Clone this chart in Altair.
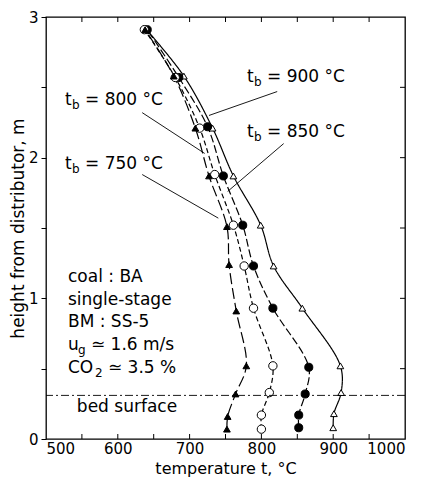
import altair as alt
import pandas as pd

# ---- data ----
series_names = ["900", "850", "800", "750"]
heights = {
    "900": [0.08, 0.18, 0.33, 0.52, 0.93, 1.23, 1.52, 1.87, 2.21, 2.58, 2.91],
    "850": [0.08, 0.17, 0.32, 0.51, 0.93, 1.23, 1.52, 1.87, 2.22, 2.57, 2.91],
    "800": [0.07, 0.17, 0.33, 0.52, 0.93, 1.23, 1.52, 1.88, 2.21, 2.57, 2.91],
    "750": [0.07, 0.16, 0.32, 0.52, 0.91, 1.24, 1.51, 1.87, 2.21, 2.58, 2.91],
}
temps = {
    "900": [900, 901, 911, 910, 857, 817, 799, 761, 732, 692, 640],
    "850": [852, 852, 861, 866, 816, 789, 774, 747, 725, 685, 641],
    "800": [800, 800, 811, 816, 789, 776, 761, 735, 714, 680, 637],
    "750": [752, 753, 764, 779, 765, 755, 752, 727, 708, 678, 638],
}
x_tick_labels = [500, 600, 700, 800, 900, 1000]
x_minor = [550, 600, 650, 700, 750, 800, 850, 900, 950]
y_ticks = [0, 0.5, 1, 1.5, 2, 2.5, 3]
y_inner = [0.5, 1, 1.5, 2, 2.5]
bed_height = 0.31

label_rest = ["= 900 °C", "= 800 °C", "= 850 °C", "= 750 °C"]
label_t = [780, 526.5, 780, 526.5]
label_h = [2.573, 2.409, 2.184, 1.954]

leader_t1 = [822, 634, 831, 634]
leader_h1 = [2.47, 2.32, 2.10, 1.88]
leader_t2 = [727, 721, 753, 740]
leader_h2 = [2.30, 2.03, 1.76, 1.57]

cond_lines = ["coal : BA", "single-stage", "BM : SS-5"]
cond_h = [1.151, 0.988, 0.832]
ug_h = 0.668
co2_h = 0.505
cond_t = 530.6
bed_label_t = 543
bed_label_h = 0.227

# ---- styles ----
FONT = "DejaVu Sans"
W, H = 359, 422
styles = {
    "900": dict(dash=[1, 0], shape="triangle-up", fill="white", size=45),
    "850": dict(dash=[8, 3], shape="circle", fill="black", size=65),
    "800": dict(dash=[5, 3], shape="circle", fill="white", size=70),
    "750": dict(dash=[11, 4], shape="triangle-up", fill="black", size=45),
}

xs = alt.Scale(domain=[500, 1000], nice=False, zero=False)
ys = alt.Scale(domain=[0, 3], nice=False, zero=False)

x_enc = alt.X("t:Q", scale=xs, title="temperature t, °C",
              axis=alt.Axis(values=x_tick_labels, ticks=False, domain=False, grid=False,
                            format="d", labelFlush=True, labelPadding=2, labelFontSize=15,
                            titleFontSize=16, titlePadding=4, labelFont=FONT, titleFont=FONT,
                            labelColor="black", titleColor="black", titleFontWeight="normal"))
y_enc = alt.Y("h:Q", scale=ys, title="height from distributor, m",
              axis=alt.Axis(values=y_ticks, tickSize=5, tickColor="black", domain=False, grid=False,
                            labelExpr="datum.value % 1 == 0 ? format(datum.value, 'd') : ''",
                            labelPadding=3, labelFontSize=15, titleFontSize=17, titlePadding=1,
                            labelFont=FONT, titleFont=FONT, labelColor="black",
                            titleColor="black", titleFontWeight="normal"))

layers = []
for s in series_names:
    df = pd.DataFrame({"t": temps[s], "h": heights[s]})
    st = styles[s]
    layers.append(
        alt.Chart(df).mark_line(color="black", strokeWidth=1.2, strokeDash=st["dash"],
                                interpolate="catmull-rom")
        .encode(x=x_enc, y=y_enc, order="h:Q")
    )
for s in series_names:
    df = pd.DataFrame({"t": temps[s], "h": heights[s]})
    st = styles[s]
    layers.append(
        alt.Chart(df).mark_point(shape=st["shape"], filled=True, fill=st["fill"], stroke="black",
                                 strokeWidth=1, size=st["size"], opacity=1)
        .encode(x="t:Q", y="h:Q")
    )

# bed surface line
bed_df = pd.DataFrame({"h": [bed_height]})
layers.append(alt.Chart(bed_df).mark_rule(color="black", strokeWidth=0.9, strokeDash=[8, 3, 2, 3])
              .encode(y="h:Q"))
layers.append(alt.Chart(pd.DataFrame({"t": [bed_label_t], "h": [bed_label_h], "txt": ["bed surface"]}))
              .mark_text(align="left", baseline="middle", font=FONT, fontSize=17, color="black")
              .encode(x="t:Q", y="h:Q", text="txt:N"))

# inner ticks
xt = pd.DataFrame({"t": x_minor})
layers.append(alt.Chart(xt).mark_rule(color="black", strokeWidth=1)
              .encode(x="t:Q", y=alt.value(H), y2=alt.value(H - 5)))
layers.append(alt.Chart(xt).mark_rule(color="black", strokeWidth=1)
              .encode(x="t:Q", y=alt.value(0), y2=alt.value(5)))
yt = pd.DataFrame({"h": y_inner})
layers.append(alt.Chart(yt).mark_rule(color="black", strokeWidth=1)
              .encode(y="h:Q", x=alt.value(W), x2=alt.value(W - 5)))

# leader lines
ld = pd.DataFrame({"t": leader_t1, "h": leader_h1, "t2": leader_t2, "h2": leader_h2})
layers.append(alt.Chart(ld).mark_rule(color="black", strokeWidth=0.9)
              .encode(x="t:Q", y="h:Q", x2="t2:Q", y2="h2:Q"))

# curve labels
lab = pd.DataFrame({"t": label_t, "h": label_h, "rest": label_rest,
                    "tt": ["t"] * 4, "bb": ["b"] * 4})
layers.append(alt.Chart(lab).mark_text(align="left", baseline="middle", font=FONT, fontSize=17,
                                       color="black").encode(x="t:Q", y="h:Q", text="tt:N"))
layers.append(alt.Chart(lab).mark_text(align="left", baseline="middle", font=FONT, fontSize=12,
                                       color="black", dx=7, dy=5).encode(x="t:Q", y="h:Q", text="bb:N"))
layers.append(alt.Chart(lab).mark_text(align="left", baseline="middle", font=FONT, fontSize=17,
                                       color="black", dx=20).encode(x="t:Q", y="h:Q", text="rest:N"))

# condition block
cd = pd.DataFrame({"t": [cond_t] * 3, "h": cond_h, "txt": cond_lines})
layers.append(alt.Chart(cd).mark_text(align="left", baseline="middle", font=FONT, fontSize=17,
                                      color="black").encode(x="t:Q", y="h:Q", text="txt:N"))
ug = pd.DataFrame({"t": [cond_t], "h": [ug_h], "a": ["u"], "b": ["g"], "c": ["≃ 1.6 m/s"]})
layers.append(alt.Chart(ug).mark_text(align="left", baseline="middle", font=FONT, fontSize=17,
                                      color="black").encode(x="t:Q", y="h:Q", text="a:N"))
layers.append(alt.Chart(ug).mark_text(align="left", baseline="middle", font=FONT, fontSize=12,
                                      color="black", dx=10, dy=5).encode(x="t:Q", y="h:Q", text="b:N"))
layers.append(alt.Chart(ug).mark_text(align="left", baseline="middle", font=FONT, fontSize=17,
                                      color="black", dx=23).encode(x="t:Q", y="h:Q", text="c:N"))
co = pd.DataFrame({"t": [cond_t], "h": [co2_h], "a": ["CO"], "b": ["2"], "c": ["≃ 3.5 %"]})
layers.append(alt.Chart(co).mark_text(align="left", baseline="middle", font=FONT, fontSize=17,
                                      color="black").encode(x="t:Q", y="h:Q", text="a:N"))
layers.append(alt.Chart(co).mark_text(align="left", baseline="middle", font=FONT, fontSize=12,
                                      color="black", dx=27, dy=5).encode(x="t:Q", y="h:Q", text="b:N"))
layers.append(alt.Chart(co).mark_text(align="left", baseline="middle", font=FONT, fontSize=17,
                                      color="black", dx=40).encode(x="t:Q", y="h:Q", text="c:N"))

chart = alt.layer(*layers).properties(
    width=W, height=H,
    autosize=alt.AutoSizeParams(type="none"),
    padding={"left": 46, "top": 17, "right": 16, "bottom": 45},
    background="white",
).configure_view(stroke="black", strokeWidth=1.3)

chart.save("out.html", embed_options={"renderer": "svg", "actions": False})
